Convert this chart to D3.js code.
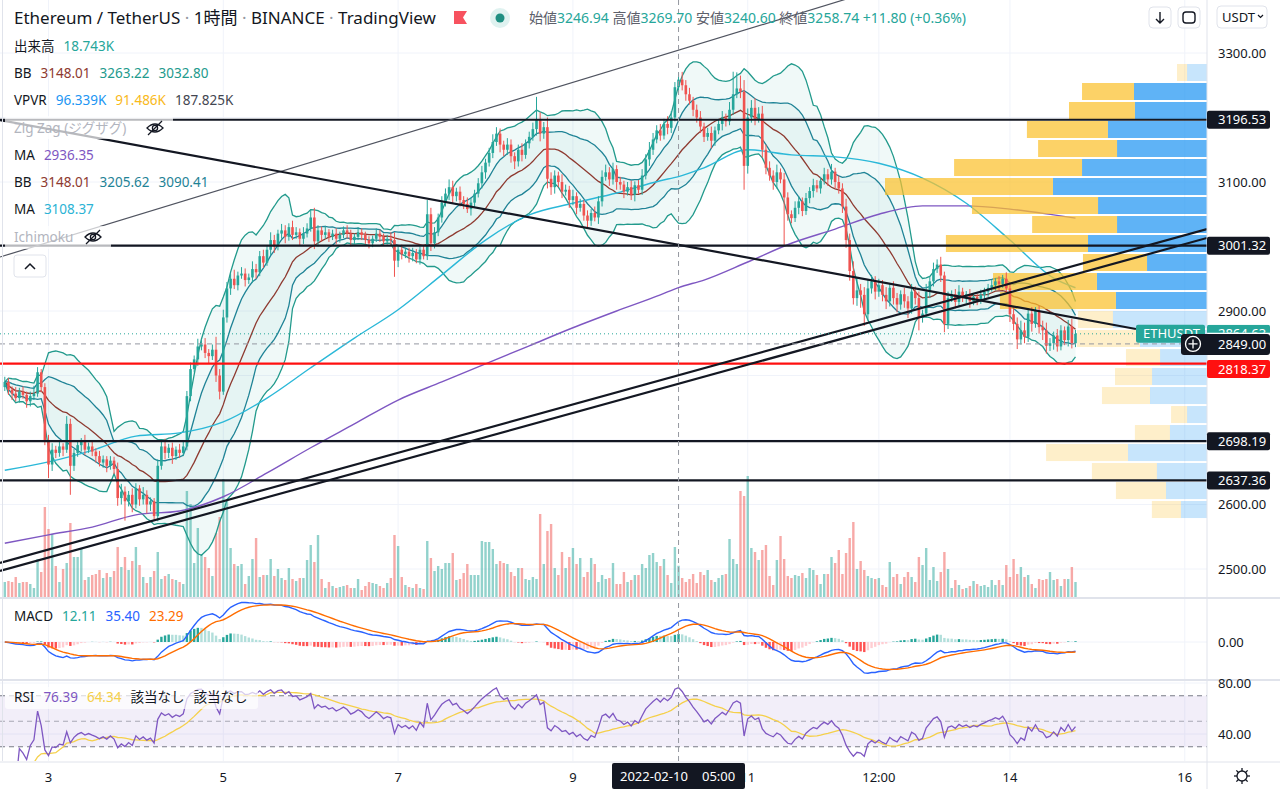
<!DOCTYPE html>
<html>
<head>
<meta charset="utf-8">
<script src="https://cdn.jsdelivr.net/npm/d3@7"></script>
<style>
  body { margin: 0; background: #fff; }
  svg { display: block; font-family: "Noto Sans", "Noto Sans CJK JP", sans-serif; }
</style>
</head>
<body>
<div id="chart"></div>
<script>
// hourly candles, ETH/USDT, first bar = 2022-02-02 12:00
var startTime = Date.UTC(2022, 1, 2, 12);
var firstOpen = 2782;

// closes, one per hour
var closes = [
  2790,2778,2772,2765,2775,2770,2760,2768,2772,2805,
  2782,2700,2662,2685,2680,2690,2685,2725,2660,2680,
  2692,2698,2685,2690,2682,2675,2665,2670,2660,2668,
  2655,2610,2620,2605,2615,2600,2625,2608,2615,2600,
  2605,2582,2660,2690,2680,2688,2675,2685,2680,2690,
  2768,2810,2825,2845,2848,2835,2830,2840,2800,2775,
  2890,2935,2950,2940,2955,2958,2948,2952,2965,2960,
  2985,2975,2995,3010,3000,3020,3025,3015,3030,3018,
  3022,3012,3020,3028,3045,3008,3025,3018,3022,3015,
  3020,3012,3018,3025,3020,3010,3015,3022,3018,3010,
  3005,3012,3020,3015,3008,3012,3010,2978,2995,2988,
  2992,2985,2990,2980,2995,2985,3050,3005,3022,3045,
  3068,3082,3092,3078,3085,3072,3066,3058,3068,3082,
  3098,3115,3130,3145,3162,3175,3158,3150,3158,3140,
  3132,3150,3142,3160,3170,3182,3196,3175,3185,3105,
  3092,3110,3100,3085,3088,3072,3078,3060,3066,3048,
  3040,3052,3045,3070,3108,3115,3104,3120,3100,3096,
  3085,3092,3080,3095,3088,3110,3135,3150,3166,3180,
  3172,3190,3184,3200,3246.94,3258.74,3250,3236,3226,3212,
  3200,3186,3170,3176,3164,3180,3190,3200,3194,3212,
  3236,3245,3240,3125,3200,3215,3198,3206,3150,3122,
  3110,3100,3115,3104,3076,3050,3044,3060,3070,3055,
  3075,3086,3095,3090,3102,3112,3104,3116,3100,3090,
  3062,3010,2962,2920,2932,2925,2895,2935,2946,2930,
  2940,2925,2915,2936,2920,2910,2926,2915,2904,2930,
  2920,2890,2896,2930,2946,2965,2972,2955,2880,2920,
  2926,2914,2930,2920,2926,2915,2922,2917,2925,2930,
  2936,2940,2946,2942,2950,2935,2895,2880,2856,2870,
  2860,2896,2880,2900,2875,2870,2846,2850,2862,2845,
  2870,2855,2876,2850,2864.63
];

// upper / lower wick length above max(open,close) and below min(open,close)
var wickUp = [
  8,6,5,10,6,8,5,7,12,8, 5,6,8,10,6,8,5,12,8,6, 8,5,10,6,7,5,8,6,5,7, 6,10,12,8,6,10,8,5,12,7,
  6,5,10,8,12,6,8,5,9,8, 8,10,6,12,8,10,6,8,20,10, 12,10,8,14,6,10,8,6,12,8, 8,10,6,12,8,6,10,8,6,10,
  8,6,10,8,12,15,8,6,10,5, 6,8,5,6,8,6,5,8,6,5, 6,5,8,6,5,6,10,12,6,8, 5,6,8,6,5,8,22,10,8,6,
  10,8,12,10,6,8,6,10,8,6, 8,10,6,8,12,10,8,6,10,8, 6,8,10,6,8,10,36,12,8,15, 10,8,6,12,8,6,10,6,8,6,
  8,6,10,8,10,12,8,10,6,8, 6,8,10,6,8,10,8,12,10,8, 10,8,12,10,8,10.96,12,8,10,6, 8,10,6,8,10,6,8,10,6,12,
  35,25,20,18,14,12,15,10,12,8, 10,8,12,6,10,8,6,10,8,6, 8,6,10,8,6,10,8,12,6,10, 8,12,10,15,20,10,12,14,10,8,
  10,8,12,6,10,8,6,10,8,12, 8,10,6,12,8,10,8,12,6,10, 6,8,10,6,5,8,6,5,8,6, 6,8,5,8,6,10,8,12,10,15,
  12,8,10,6,8,10,12,8,6,10, 8,6,10,12,6
];
var wickDn = [
  6,8,10,5,7,6,10,8,6,5, 8,8,21,10,8,6,10,5,45,8, 6,10,8,5,7,10,6,8,10,6, 8,12,10,30,8,12,6,10,8,14,
  10,6,8,6,10,8,12,6,8,5, 6,8,5,10,6,8,12,6,10,12, 5,8,10,6,8,5,10,6,8,10, 6,8,5,8,10,6,8,10,6,8,
  6,10,8,6,5,12,8,10,6,8, 5,8,6,5,8,10,6,5,8,6, 8,6,5,8,6,5,8,25,10,8, 6,10,8,6,8,5,6,12,8,6,
  8,6,10,12,8,10,8,6,10,8, 6,8,10,6,8,6,12,10,8,10, 12,8,10,6,8,6,10,12,8,15, 12,10,8,10,6,12,8,10,6,8,
  10,8,6,10,8,6,10,8,12,8, 10,6,8,10,6,8,6,10,8,6, 8,6,10,8,6,6.34,8,10,6,10, 8,10,8,6,12,8,6,10,8,6,
  8,6,10,37,12,8,10,6,12,10, 8,12,10,6,74,10,8,6,10,8, 6,8,10,6,8,6,10,8,10,8, 10,12,15,10,12,20,18,10,8,12,
  8,10,12,8,10,12,8,10,15,8, 10,20,8,6,10,8,6,10,13,8, 6,10,8,6,8,10,6,8,6,8, 8,6,8,10,6,8,12,10,15,8,
  10,8,12,6,10,15,12,8,10,8, 6,8,10,8,6
];

// volume per hour, thousands of ETH
var volumes = [
  9.0,9.6,9.0,12.0,8.4,9.0,9.0,7.8,5.4,22.8, 15.0,54.0,40.8,37.8,18.6,9.0,16.8,20.4,44.4,24.0,
  24.0,28.8,10.2,12.0,13.2,13.8,16.2,11.4,14.4,12.0, 15.6,30.0,18.0,24.0,16.2,21.6,30.0,19.2,12.0,8.4,
  12.0,15.6,27.0,10.8,12.6,13.8,10.8,10.2,9.0,7.8, 63.6,55.8,20.4,41.4,25.8,24.0,17.4,12.6,38.4,48.0,
  70.8,57.6,29.4,19.8,18.6,19.8,7.8,12.6,22.8,35.4, 12.0,13.2,13.2,22.8,12.6,16.8,11.4,10.2,17.4,10.8,
  9.6,11.4,11.4,22.2,31.2,21.0,37.2,10.8,5.4,9.0, 6.6,5.4,6.0,6.6,7.2,5.4,5.4,10.8,4.2,6.6,
  9.0,8.4,7.8,6.6,5.4,8.4,11.4,37.2,30.6,12.0, 7.2,6.0,5.4,7.8,5.4,4.8,33.6,23.4,15.6,18.6,
  16.8,20.4,20.4,26.4,10.2,10.8,14.4,19.8,13.2,13.2, 13.2,33.6,33.0,33.0,28.8,19.8,21.6,20.4,19.8,15.0,
  12.6,17.4,17.4,10.8,10.2,12.0,10.8,49.8,19.8,39.6, 43.8,17.4,13.2,27.0,17.4,24.0,29.4,19.8,23.4,12.0,
  15.0,23.4,19.8,9.0,13.2,10.8,11.4,20.4,7.8,7.8, 15.0,9.0,10.2,13.2,13.2,19.8,17.4,25.2,26.4,21.0,
  18.6,22.8,13.2,8.4,30.0,18.743,11.4,9.0,10.8,13.8, 8.4,15.0,13.2,16.2,10.2,9.0,11.4,13.2,13.8,34.8,
  22.8,19.8,63.6,60.6,72.6,29.4,27.0,22.2,28.2,31.2, 12.6,7.2,22.2,36.6,22.8,12.6,11.4,13.2,12.6,14.4,
  11.4,17.4,16.2,13.2,7.8,13.8,13.8,24.0,20.4,28.2, 13.8,26.4,35.4,45.0,16.8,21.6,16.2,12.6,11.4,10.8,
  11.4,7.2,6.0,21.0,12.0,13.8,7.8,12.0,15.0,12.0, 9.0,24.0,19.2,29.4,10.2,18.0,9.6,15.0,27.0,16.8,
  5.4,10.2,7.2,4.8,5.4,6.6,9.6,7.8,6.6,7.2, 6.0,10.2,7.2,10.2,7.2,19.2,12.0,22.8,13.8,18.0,
  12.0,13.2,7.8,5.4,10.8,10.2,10.8,15.0,10.2,10.8, 6.6,10.8,10.8,18.0,9.0
];

// moving averages: [bar index, price]
var maSlowPts = [[0,2540],[12,2553],[24,2565],[36,2584],[48,2590],[60,2612],[72,2649],[84,2688],[96,2725],
  [108,2762],[120,2790],[132,2818],[144,2846],[156,2874],[168,2900],[180,2925],[185,2936.35],[192,2948],
  [204,2976],[216,3005],[228,3027],[240,3050],[252,3063],[264,3063],[276,3058],[288,3049],[294,3044]];
var maFastPts = [[0,2653],[12,2666],[24,2684],[36,2706],[48,2711],[60,2728],[72,2765],[84,2812],[96,2858],
  [108,2902],[120,2956],[132,3010],[144,3049],[156,3067],[168,3083],[180,3102],[185,3108.37],[192,3122],
  [204,3150],[216,3142],[228,3139],[240,3129],[252,3106],[264,3067],[276,3010],[288,2951],[294,2936]];

// visible range volume profile, 24 rows from the top bin down
var vpTop = 3284.5, vpBin = 29.46;
var vpUp = [1.07,3.92,3.87,5.32,4.83,6.71,8.27,5.85,4.83,6.39,3.22,5.91,4.89,5.05,3.60,2.52,2.95,3.06,1.07,1.99,4.24,2.69,2.20,1.40];
var vpDn = [0.54,2.79,3.54,4.35,4.24,6.87,9.02,6.77,4.56,7.63,3.44,5.58,6.23,1.88,3.38,1.83,1.99,2.58,0.86,1.88,4.40,3.49,2.69,1.56];
var vpValueArea = [1, 12];

// drawings
var hLevels = [3196.53, 3001.32, 2698.19, 2637.36];
var redLevel = 2818.37;
var lastPrice = 2864.63;
var crossBar = 185, crossPrice = 2849.00;
var trendThin = [[-1.32, 2983.7], [240, 3399]];
var trendDown = [[-1.32, 3196.1], [310.6, 2872.1]];
var trendUpA = [[-1.32, 2509.3], [330.1, 3027.1]];
var trendUpB = [[-1.32, 2496.9], [330.1, 3013.2]];

// axes
var priceTicks = [2500, 2600, 2700, 2800, 2900, 3000, 3100, 3200, 3300];
var timeTicks = [Date.UTC(2022,1,3), Date.UTC(2022,1,5), Date.UTC(2022,1,7), Date.UTC(2022,1,9),
  Date.UTC(2022,1,11), Date.UTC(2022,1,12,12), Date.UTC(2022,1,14), Date.UTC(2022,1,16)];
var timeLabels = ["3", "5", "7", "9", "11", "12:00", "14", "16"];

var W = 1280, H = 789, AX = 1207;
var mainB = 597, macdT = 599, macdB = 679, rsiT = 681, rsiB = 761, timeT = 762;
var UP = "#26a69a", DN = "#ef5350", INK = "#131722";

var svg = d3.select("#chart").append("svg").attr("width", W).attr("height", H);
svg.append("rect").attr("width", W).attr("height", H).attr("fill", "#fff");

var defs = svg.append("defs");
[["clipMain", 0, mainB], ["clipMacd", macdT, macdB], ["clipRsi", rsiT, rsiB]].forEach(function(c) {
  defs.append("clipPath").attr("id", c[0]).append("rect")
    .attr("x", 0).attr("y", c[1]).attr("width", AX).attr("height", c[2] - c[1]);
});

var n = closes.length;
var hour = 3600e3;
var x = d3.scaleUtc()
    .domain([new Date(startTime), new Date(startTime + 294 * hour)])
    .range([4.8, 1075.5]);
function xi(i) { return x(new Date(startTime + i * hour)); }
var y = d3.scaleLinear().domain([2500, 3300]).range([569, 53]);
var yVol = d3.scaleLinear().domain([0, 75]).range([mainB, 472]);
var yMacd = d3.scaleLinear().domain([-60, 60]).range([676.8, 607.2]);
var yRsi = d3.scaleLinear().domain([30, 80]).range([746.75, 683]);

var candles = closes.map(function(c, i) {
  var o = i === 0 ? firstOpen : closes[i - 1];
  return {i: i, o: o, c: c, h: Math.max(o, c) + wickUp[i], l: Math.min(o, c) - wickDn[i], v: volumes[i]};
});

// ---- grid
var grid = svg.append("g");
grid.selectAll("line.h").data(priceTicks).enter().append("line")
    .attr("x1", 0).attr("x2", AX).attr("y1", function(d) { return y(d); }).attr("y2", function(d) { return y(d); })
    .attr("stroke", "#f0f3fa");
grid.selectAll("line.v").data(timeTicks).enter().append("line")
    .attr("x1", function(d) { return x(new Date(d)); }).attr("x2", function(d) { return x(new Date(d)); })
    .attr("y1", 0).attr("y2", rsiB).attr("stroke", "#f0f3fa");
grid.append("line").attr("x1", 0).attr("x2", AX).attr("y1", yMacd(0)).attr("y2", yMacd(0)).attr("stroke", "#f0f3fa");
[80, 40].forEach(function(v) {
  grid.append("line").attr("x1", 0).attr("x2", AX).attr("y1", yRsi(v)).attr("y2", yRsi(v)).attr("stroke", "#f0f3fa");
});

var main = svg.append("g").attr("clip-path", "url(#clipMain)");

// ---- volume
main.selectAll("rect.vol").data(candles).enter().append("rect")
    .attr("x", function(d) { return xi(d.i) - 1.2; })
    .attr("width", 2.4)
    .attr("y", function(d) { return yVol(d.v); })
    .attr("height", function(d) { return mainB - yVol(d.v); })
    .attr("fill", function(d) { return d.c >= d.o ? UP : DN; })
    .attr("opacity", 0.5);

// ---- bollinger bands (20, 2) and (20, 1)
function bands(k) {
  return candles.map(function(d, i) {
    var w = closes.slice(Math.max(0, i - 19), i + 1);
    var m = d3.mean(w);
    var sd = Math.sqrt(d3.mean(w, function(v) { return (v - m) * (v - m); }));
    return {i: i, m: m, up: m + k * sd, lo: m - k * sd};
  });
}
var bb2 = bands(2), bb1 = bands(1);
var area = d3.area().x(function(d) { return xi(d.i); })
    .y0(function(d) { return y(d.lo); }).y1(function(d) { return y(d.up); });
main.append("path").datum(bb2).attr("d", area).attr("fill", "rgba(38,166,154,0.07)");
main.append("path").datum(bb1).attr("d", area).attr("fill", "rgba(38,166,154,0.05)");
function lineOf(key) { return d3.line().x(function(d) { return xi(d.i); }).y(function(d) { return y(d[key]); }); }
[[bb2, "up", "#229a8c"], [bb2, "lo", "#229a8c"], [bb1, "up", "#1f8396"], [bb1, "lo", "#1f8396"], [bb2, "m", "#8e3a30"]]
  .forEach(function(s) {
    main.append("path").datum(s[0]).attr("d", lineOf(s[1])).attr("fill", "none")
        .attr("stroke", s[2]).attr("stroke-width", 1.3);
  });

// ---- moving averages
var maLine = d3.line().curve(d3.curveMonotoneX)
    .x(function(d) { return xi(d[0]); }).y(function(d) { return y(d[1]); });
main.append("path").datum(maSlowPts).attr("d", maLine).attr("fill", "none").attr("stroke", "#7e57c2").attr("stroke-width", 1.4);
main.append("path").datum(maFastPts).attr("d", maLine).attr("fill", "none").attr("stroke", "#2bb8d8").attr("stroke-width", 1.4);

// ---- volume profile
var vpMax = d3.max(vpUp.map(function(u, r) { return u + vpDn[r]; }));
var vpW = d3.scaleLinear().domain([0, vpMax]).range([0, 322]);
var vp = main.append("g");
vpUp.forEach(function(u, r) {
  var y0 = y(vpTop - r * vpBin), y1 = y(vpTop - (r + 1) * vpBin);
  var bright = r >= vpValueArea[0] && r <= vpValueArea[1];
  var a = bright ? 0.72 : 0.25;
  vp.append("rect").attr("x", AX - vpW(u)).attr("width", vpW(u))
      .attr("y", y0 + 1).attr("height", y1 - y0 - 2).attr("fill", "rgba(33,150,243," + a + ")");
  vp.append("rect").attr("x", AX - vpW(u + vpDn[r])).attr("width", vpW(vpDn[r]))
      .attr("y", y0 + 1).attr("height", y1 - y0 - 2).attr("fill", "rgba(251,192,45," + a + ")");
});

// ---- candles
var cg = main.selectAll("g.candle").data(candles).enter().append("g");
cg.append("line")
    .attr("x1", function(d) { return xi(d.i); }).attr("x2", function(d) { return xi(d.i); })
    .attr("y1", function(d) { return y(d.h); }).attr("y2", function(d) { return y(d.l); })
    .attr("stroke", function(d) { return d.c >= d.o ? UP : DN; }).attr("stroke-width", 1);
cg.append("rect")
    .attr("x", function(d) { return xi(d.i) - 1.3; }).attr("width", 2.6)
    .attr("y", function(d) { return y(Math.max(d.o, d.c)); })
    .attr("height", function(d) { return Math.max(1, Math.abs(y(d.o) - y(d.c))); })
    .attr("fill", function(d) { return d.c >= d.o ? UP : DN; });

// ---- drawings
hLevels.forEach(function(p) {
  main.append("line").attr("x1", 0).attr("x2", AX).attr("y1", y(p)).attr("y2", y(p))
      .attr("stroke", INK).attr("stroke-width", 2.2);
});
main.append("line").attr("x1", 0).attr("x2", AX).attr("y1", y(redLevel)).attr("y2", y(redLevel))
    .attr("stroke", "#ff1010").attr("stroke-width", 2.2);
function seg(pts, color, w) {
  main.append("line").attr("x1", xi(pts[0][0])).attr("y1", y(pts[0][1]))
      .attr("x2", xi(pts[1][0])).attr("y2", y(pts[1][1]))
      .attr("stroke", color).attr("stroke-width", w);
}
seg(trendThin, "#505460", 1.2);
seg(trendDown, INK, 2.2);
seg(trendUpA, INK, 2.2);
seg(trendUpB, INK, 2.2);

main.append("line").attr("x1", 0).attr("x2", AX).attr("y1", y(lastPrice)).attr("y2", y(lastPrice))
    .attr("stroke", UP).attr("stroke-dasharray", "1,3");

// ---- MACD (12, 26, 9)
function ema(arr, len) {
  var k = 2 / (len + 1), prev = arr[0];
  return arr.map(function(v, i) { prev = i ? v * k + prev * (1 - k) : v; return prev; });
}
var e12 = ema(closes, 12), e26 = ema(closes, 26);
var macd = e12.map(function(v, i) { return v - e26[i]; });
var signal = ema(macd, 9);
var hist = macd.map(function(v, i) { return v - signal[i]; });
var mg = svg.append("g").attr("clip-path", "url(#clipMacd)");
mg.selectAll("rect").data(hist).enter().append("rect")
    .attr("x", function(d, i) { return xi(i) - 1.2; }).attr("width", 2.4)
    .attr("y", function(d) { return Math.min(yMacd(d), yMacd(0)); })
    .attr("height", function(d) { return Math.abs(yMacd(d) - yMacd(0)); })
    .attr("fill", function(d, i) {
      var p = i ? hist[i - 1] : d;
      return d >= 0 ? (d >= p ? "#26a69a" : "#b2dfdb") : (d < p ? "#ff5252" : "#ffcdd2");
    });
var idxLine = function(scale) {
  return d3.line().defined(function(d) { return d != null; })
    .x(function(d, i) { return xi(i); }).y(function(d) { return scale(d); });
};
mg.append("path").datum(macd).attr("d", idxLine(yMacd)).attr("fill", "none").attr("stroke", "#2962ff").attr("stroke-width", 1.4);
mg.append("path").datum(signal).attr("d", idxLine(yMacd)).attr("fill", "none").attr("stroke", "#ff6d00").attr("stroke-width", 1.4);

// ---- RSI (14) with 14 SMA
var rsi = [null], sg = 0, sl = 0, ag = 0, al = 0;
for (var i = 1; i < n; i++) {
  var ch = closes[i] - closes[i - 1], gg = Math.max(ch, 0), ll = Math.max(-ch, 0);
  if (i <= 14) { sg += gg; sl += ll; ag = sg / i; al = sl / i; }
  else { ag = (ag * 13 + gg) / 14; al = (al * 13 + ll) / 14; }
  rsi.push(al === 0 ? 100 : 100 - 100 / (1 + ag / al));
}
var rsiMa = rsi.map(function(v, i) {
  var w = rsi.slice(Math.max(1, i - 13), i + 1).filter(function(d) { return d != null; });
  return w.length ? d3.mean(w) : null;
});
var rg = svg.append("g").attr("clip-path", "url(#clipRsi)");
rg.append("rect").attr("x", 0).attr("width", AX).attr("y", yRsi(70)).attr("height", yRsi(30) - yRsi(70))
    .attr("fill", "rgba(126,87,194,0.1)");
[[70, 1], [50, 0.6], [30, 1]].forEach(function(b) {
  rg.append("line").attr("x1", 0).attr("x2", AX).attr("y1", yRsi(b[0])).attr("y2", yRsi(b[0]))
      .attr("stroke", "#787b86").attr("stroke-dasharray", "5,4").attr("opacity", b[1]);
});
rg.append("path").datum(rsiMa).attr("d", idxLine(yRsi)).attr("fill", "none").attr("stroke", "#f5d04a").attr("stroke-width", 1.3);
rg.append("path").datum(rsi).attr("d", idxLine(yRsi)).attr("fill", "none").attr("stroke", "#7e57c2").attr("stroke-width", 1.3);

// ---- crosshair
var cx = xi(crossBar);
svg.append("line").attr("x1", cx).attr("x2", cx).attr("y1", 0).attr("y2", timeT)
    .attr("stroke", "#9598a1").attr("stroke-dasharray", "5,4");
svg.append("line").attr("x1", 0).attr("x2", AX).attr("y1", y(crossPrice)).attr("y2", y(crossPrice))
    .attr("stroke", "#9598a1").attr("stroke-dasharray", "5,4");

// ---- legends
function legendBg(x0, y0, w, h) {
  svg.append("rect").attr("x", x0).attr("y", y0).attr("width", w).attr("height", h).attr("rx", 3)
      .attr("fill", "#fff").attr("opacity", 0.7);
}
function legendRow(x0, yy, parts, size) {
  var t = svg.append("text").attr("x", x0).attr("y", yy).attr("font-size", size || 13.5);
  parts.forEach(function(p, k) { t.append("tspan").attr("dx", k ? 9 : 0).attr("fill", p[1]).text(p[0]); });
  return t;
}
function eyeOff(cx0, cy0) {
  var g = svg.append("g").attr("fill", "none").attr("stroke", INK).attr("stroke-width", 1.3);
  g.append("path").attr("d", "M" + (cx0 - 8) + "," + cy0 + " Q" + cx0 + "," + (cy0 - 8) + " " + (cx0 + 8) + "," + cy0 +
      " Q" + cx0 + "," + (cy0 + 8) + " " + (cx0 - 8) + "," + cy0 + "Z");
  g.append("circle").attr("cx", cx0).attr("cy", cy0).attr("r", 2.6);
  g.append("line").attr("x1", cx0 - 7).attr("y1", cy0 + 7).attr("x2", cx0 + 7).attr("y2", cy0 - 7);
}
legendBg(5, 116, 168, 23);
legendBg(5, 226, 106, 23);

var hdr = svg.append("text").attr("x", 14).attr("y", 24).attr("font-size", 17).attr("fill", INK);
[["Ethereum / TetherUS", INK], [" · ", "#9598a1"], ["1時間", INK], [" · ", "#9598a1"], ["BINANCE", INK],
 [" · ", "#9598a1"], ["TradingView", INK]].forEach(function(p) { hdr.append("tspan").attr("fill", p[1]).text(p[0]); });
svg.append("path").attr("d", "M454,11 h13 l-4,6.5 l4,6.5 h-13 z").attr("fill", "#f7525f");
svg.append("circle").attr("cx", 500).attr("cy", 18).attr("r", 10).attr("fill", "#26a69a").attr("opacity", 0.15);
svg.append("circle").attr("cx", 500).attr("cy", 18).attr("r", 4.5).attr("fill", "#1f8f82");
var ohlc = svg.append("text").attr("x", 529).attr("y", 23).attr("font-size", 14);
[["始値", "#5d606b"], ["3246.94 ", UP], ["高値", "#5d606b"], ["3269.70 ", UP], ["安値", "#5d606b"], ["3240.60 ", UP],
 ["終値", "#5d606b"], ["3258.74 ", UP], ["+11.80 (+0.36%)", UP]].forEach(function(p) {
  ohlc.append("tspan").attr("fill", p[1]).text(p[0]);
});

legendRow(14, 51, [["出来高", INK], ["18.743K", UP]]);
legendRow(14, 78, [["BB", INK], ["3148.01", "#8e3a30"], ["3263.22", "#229a8c"], ["3032.80", "#229a8c"]]);
legendRow(14, 105, [["VPVR", INK], ["96.339K", "#2196f3"], ["91.486K", "#f9b91b"], ["187.825K", "#434651"]]);
legendRow(14, 133, [["Zig Zag (ジグザグ)", "#b2b5be"]]);
eyeOff(155, 128);
legendRow(14, 160, [["MA", INK], ["2936.35", "#7e57c2"]]);
legendRow(14, 187, [["BB", INK], ["3148.01", "#8e3a30"], ["3205.62", "#1f8396"], ["3090.41", "#1f8396"]]);
legendRow(14, 214, [["MA", INK], ["3108.37", "#2bb3d5"]]);
legendRow(14, 242, [["Ichimoku", "#b2b5be"]]);
eyeOff(93, 237);
svg.append("rect").attr("x", 14).attr("y", 255).attr("width", 32).attr("height", 22).attr("rx", 3)
    .attr("fill", "#fff").attr("stroke", "#e0e3eb");
svg.append("path").attr("d", "M25,269 l5,-5 l5,5").attr("fill", "none").attr("stroke", INK).attr("stroke-width", 1.5);

legendRow(14, 621, [["MACD", INK], ["12.11", UP], ["35.40", "#2962ff"], ["23.29", "#ff6d00"]]);
legendBg(5, 687, 253, 22);
legendRow(14, 702, [["RSI", INK], ["76.39", "#7e57c2"], ["64.34", "#f5d04a"], ["該当なし", INK], ["該当なし", INK]]);

// ---- panes, separators, axes
svg.append("rect").attr("x", AX).attr("y", 0).attr("width", W - AX).attr("height", H).attr("fill", "#fff");
svg.append("rect").attr("x", 0).attr("y", timeT).attr("width", AX).attr("height", H - timeT).attr("fill", "#fff");
[mainB + 1, rsiT - 1].forEach(function(yy) {
  svg.append("line").attr("x1", 0).attr("x2", W).attr("y1", yy).attr("y2", yy).attr("stroke", "#e0e3eb").attr("stroke-width", 2);
});
svg.append("line").attr("x1", 0).attr("x2", W).attr("y1", timeT).attr("y2", timeT).attr("stroke", "#e0e3eb");
svg.append("line").attr("x1", AX).attr("x2", AX).attr("y1", 0).attr("y2", H).attr("stroke", "#e0e3eb");
svg.append("line").attr("x1", 2.5).attr("x2", 2.5).attr("y1", 0).attr("y2", rsiB).attr("stroke", "#e0e3eb");

// price tags that sit on the axis; tick labels under them are skipped
var tagYs = hLevels.map(function(p) { return y(p); }).concat([369, y(lastPrice), y(crossPrice)]);
var ax = svg.append("g").attr("font-size", 13).attr("fill", INK);
ax.selectAll("text.p").data(priceTicks.filter(function(p) {
      return tagYs.every(function(t) { return Math.abs(t - y(p)) > 16; });
    })).enter().append("text")
    .attr("x", 1218).attr("y", function(d) { return y(d) + 4.5; }).text(function(d) { return d.toFixed(2); });
ax.append("text").attr("x", 1218).attr("y", yMacd(0) + 4.5).text("0.00");
[80, 40].forEach(function(v) { ax.append("text").attr("x", 1218).attr("y", yRsi(v) + 4.5).text(v.toFixed(2)); });
ax.selectAll("text.t").data(timeTicks).enter().append("text")
    .attr("x", function(d) { return x(new Date(d)); }).attr("y", 782).attr("text-anchor", "middle")
    .text(function(d, i) { return timeLabels[i]; });

function axisTag(yc, label, bg) {
  svg.append("rect").attr("x", AX).attr("y", yc - 9).attr("width", 1270 - AX).attr("height", 18)
      .attr("rx", 2).attr("fill", bg);
  svg.append("text").attr("x", 1218).attr("y", yc + 4.5).attr("font-size", 13).attr("fill", "#fff").text(label);
}
hLevels.forEach(function(p) { axisTag(y(p), p.toFixed(2), INK); });
axisTag(369, redLevel.toFixed(2), "#ff1010");
svg.append("rect").attr("x", 1136).attr("y", y(lastPrice) - 9).attr("width", 69).attr("height", 18).attr("rx", 2).attr("fill", UP);
svg.append("text").attr("x", 1143).attr("y", y(lastPrice) + 4.5).attr("font-size", 13).attr("fill", "#fff").text("ETHUSDT");
// last-price tag sits half under the crosshair tag; only its top shows
defs.append("clipPath").attr("id", "clipLast").append("rect")
    .attr("x", AX).attr("y", y(lastPrice) - 9).attr("width", W - AX).attr("height", 8);
var lastTag = svg.append("g").attr("clip-path", "url(#clipLast)");
lastTag.append("rect").attr("x", AX).attr("y", y(lastPrice) - 9).attr("width", 1270 - AX).attr("height", 18).attr("rx", 2).attr("fill", UP);
lastTag.append("text").attr("x", 1218).attr("y", y(lastPrice) + 4.5).attr("font-size", 13).attr("fill", "#fff").text(lastPrice.toFixed(2));
svg.append("rect").attr("x", 1181).attr("y", y(crossPrice) - 10).attr("width", 89).attr("height", 21).attr("rx", 3).attr("fill", INK);
svg.append("circle").attr("cx", 1193).attr("cy", y(crossPrice)).attr("r", 7.5).attr("fill", "none").attr("stroke", "#fff").attr("stroke-width", 1.3);
svg.append("path").attr("d", "M1193," + (y(crossPrice) - 4.5) + " v9 M1188.5," + y(crossPrice) + " h9")
    .attr("stroke", "#fff").attr("stroke-width", 1.3);
svg.append("text").attr("x", 1218).attr("y", y(crossPrice) + 5).attr("font-size", 13).attr("fill", "#fff").text(crossPrice.toFixed(2));

svg.append("rect").attr("x", 612).attr("y", timeT + 1).attr("width", 133).attr("height", 26).attr("rx", 2).attr("fill", INK);
svg.append("text").attr("x", 620).attr("y", 781).attr("font-size", 13).attr("fill", "#fff").text("2022-02-10");
svg.append("text").attr("x", 702).attr("y", 781).attr("font-size", 13).attr("fill", "#fff").text("05:00");

// ---- top-right buttons and settings icon
[[1149, 22], [1178, 22]].forEach(function(b) {
  svg.append("rect").attr("x", b[0]).attr("y", 7).attr("width", b[1]).attr("height", 21).attr("rx", 4)
      .attr("fill", "#fff").attr("stroke", "#e0e3eb");
});
svg.append("path").attr("d", "M1160,12 v11 M1156,19 l4,4 l4,-4").attr("fill", "none").attr("stroke", INK).attr("stroke-width", 1.4);
svg.append("rect").attr("x", 1183).attr("y", 12).attr("width", 12).attr("height", 11).attr("rx", 3)
    .attr("fill", "none").attr("stroke", INK).attr("stroke-width", 1.4);
svg.append("rect").attr("x", 1186).attr("y", 10).attr("width", 6).attr("height", 15).attr("fill", "#fff");
svg.append("path").attr("d", "M1186,12 h6 M1186,23 h6").attr("stroke", INK).attr("stroke-width", 1.4);
svg.append("rect").attr("x", 1217).attr("y", 6).attr("width", 50).attr("height", 22).attr("rx", 4)
    .attr("fill", "#fff").attr("stroke", "#e0e3eb");
svg.append("text").attr("x", 1222).attr("y", 22).attr("font-size", 13).attr("fill", INK).text("USDT");
svg.append("path").attr("d", "M1258,15 l2.5,2.5 l2.5,-2.5").attr("fill", "none").attr("stroke", INK).attr("stroke-width", 1.2);

var gear = svg.append("g").attr("stroke", INK).attr("stroke-width", 1.3).attr("fill", "none");
gear.append("circle").attr("cx", 1242).attr("cy", 776).attr("r", 5);
d3.range(8).forEach(function(k) {
  var a = k * Math.PI / 4;
  gear.append("line").attr("x1", 1242 + Math.cos(a) * 5).attr("y1", 776 + Math.sin(a) * 5)
      .attr("x2", 1242 + Math.cos(a) * 8).attr("y2", 776 + Math.sin(a) * 8);
});
</script>
</body>
</html>
